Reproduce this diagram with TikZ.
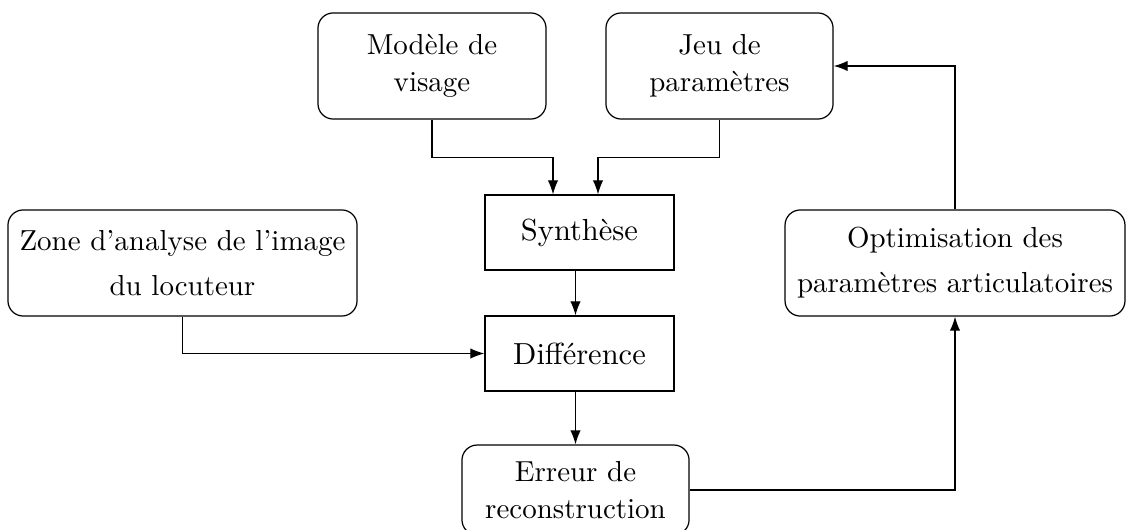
\documentclass[tikz,border=0pt]{standalone}
\usetikzlibrary{arrows.meta,calc}
\tikzset{
  box/.style={draw, line width=0.4pt, inner sep=0pt, align=center},
  rbox/.style={box, rounded corners=5pt},
  arr/.style={-{Latex[length=4.6pt,width=3.4pt]}, line width=0.4pt},
  smalltxt/.style={font=\fontsize{9.5}{12}\selectfont},
  widetxt/.style={font=\fontsize{9.5}{14.75}\selectfont},
}
\begin{document}
\begin{tikzpicture}[x=0.328pt,y=-0.328pt]
\useasboundingbox (0,0) rectangle (1126,530);
\node[rbox,smalltxt,minimum width=74.8pt,minimum height=34.8pt] (modele) at (432,66) {Modèle de\\visage};
\node[rbox,smalltxt,minimum width=74.5pt,minimum height=34.8pt] (jeu) at (719.5,66) {Jeu de\\paramètres};
\node[box,minimum width=62pt,minimum height=24.6pt] (synth) at (579.5,232.5) {Synthèse};
\node[box,minimum width=62pt,minimum height=24.6pt] (diff) at (579.5,353.5) {Différence};
\node[rbox,widetxt,minimum width=114.5pt,minimum height=34.8pt] (zone) at (182.5,263) {Zone d'analyse de l'image\\du locuteur};
\node[rbox,widetxt,minimum width=111.5pt,minimum height=34.8pt] (opt) at (955,263) {Optimisation des\\paramètres articulatoires};
\node[rbox,smalltxt,minimum width=74.5pt,minimum height=29.5pt] (err) at (575.5,490) {Erreur de\\reconstruction};
\coordinate (sinL) at ($(synth.north)+(-26.5,0)$);
\coordinate (sinR) at ($(synth.north)+(18.5,0)$);
\draw[arr] (modele.south) -- ++(0,38) -| (sinL);
\draw[arr] (jeu.south) -- ++(0,38) -| (sinR);
\draw[arr] (synth.south -| err.north) -- (diff.north -| err.north);
\draw[arr] (zone.south) |- (diff.west);
\draw[arr] (diff.south -| err.north) -- (err.north);
\draw[arr] (err.east) -| (opt.south);
\draw[arr] (opt.north) |- (jeu.east);
\end{tikzpicture}
\end{document}
